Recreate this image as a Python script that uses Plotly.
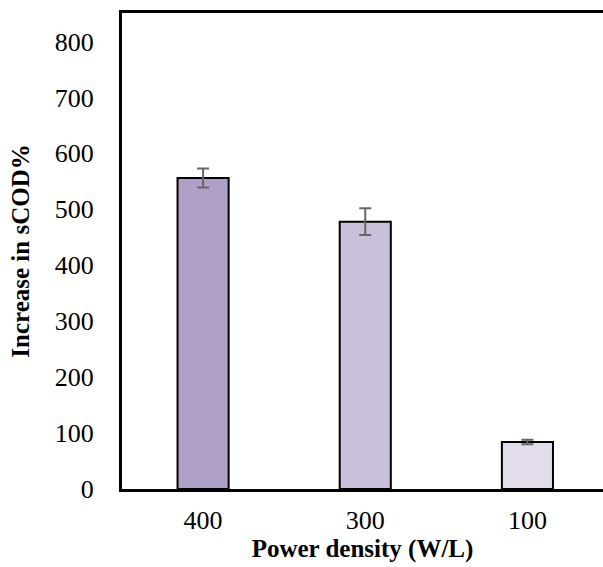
import plotly.graph_objects as go

categories = ["400", "300", "100"]
values = [556, 478, 84]
errors = [17, 24, 4]
colors = ["#AFA0C7", "#CAC0DC", "#E3DDEB"]

font_family = "Times New Roman, Liberation Serif, serif"

fig = go.Figure()
fig.add_trace(go.Bar(
    x=categories,
    y=values,
    width=0.315,
    marker=dict(color=colors, line=dict(color="black", width=2)),
    error_y=dict(type="data", array=errors, visible=True,
                 color="#666666", thickness=2, width=6),
))

fig.update_layout(
    width=603, height=567,
    margin=dict(l=122, r=0, t=13, b=78),
    paper_bgcolor="white", plot_bgcolor="white",
    showlegend=False,
    font=dict(family=font_family, color="black", size=26),
    xaxis=dict(
        type="category",
        range=[-0.5, 2.466],
        showline=True, linecolor="black", linewidth=3, mirror=True,
        showgrid=False, ticks="", ticklabelstandoff=6,
        tickfont=dict(size=26, family=font_family, color="black"),
        title=dict(text="<b>Power density (W/L)</b>", standoff=2,
                   font=dict(size=25, family=font_family, color="black")),
    ),
    yaxis=dict(
        range=[0, 851],
        tickmode="array", tickvals=list(range(0, 801, 100)),
        showline=True, linecolor="black", linewidth=3, mirror=False,
        showgrid=False, zeroline=False, ticks="", ticklabelstandoff=20,
        tickfont=dict(size=26, family=font_family, color="black"),
        title=dict(text="<b>Increase in sCOD%</b>", standoff=19,
                   font=dict(size=25, family=font_family, color="black")),
    ),
)

fig.write_html("out.html")
